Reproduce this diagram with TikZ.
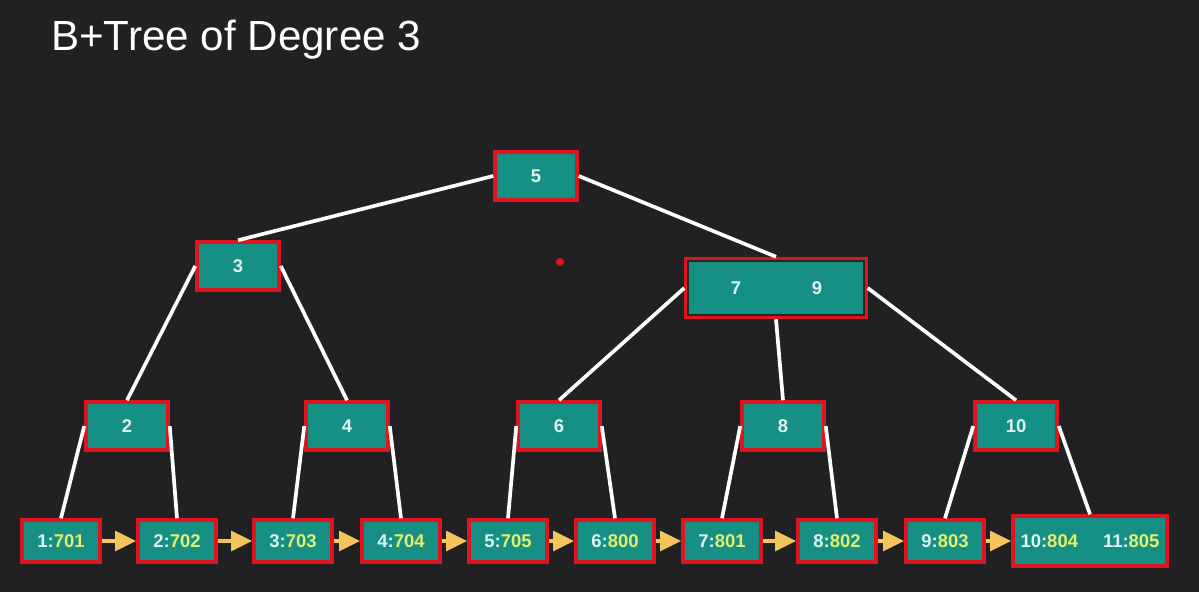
\documentclass[tikz,border=0pt]{standalone}
\usepackage{fontspec}
\setmainfont{Liberation Sans}
\usetikzlibrary{arrows.meta}

\definecolor{bgdark}{HTML}{212123}
\definecolor{nodeteal}{HTML}{168F84}
\definecolor{nodered}{HTML}{E0141E}
\definecolor{keycol}{HTML}{DDF6F0}
\definecolor{valcol}{HTML}{E4F06A}
\definecolor{linkcol}{HTML}{F5C55C}

% key:value of a leaf entry
\newcommand{\kv}[2]{\textcolor{keycol}{#1:}\textcolor{valcol}{#2}}

\begin{document}
\begin{tikzpicture}[x=0.02cm, y=-0.02cm, font=\bfseries\fontsize{10.5}{12}\selectfont,
  keybox/.style={draw=nodered, line width=2pt, fill=nodeteal, text=keycol,
    rectangle, minimum height=0.96cm, minimum width=1.64cm, inner sep=0pt},
  leafbox/.style={draw=nodered, line width=2pt, fill=nodeteal,
    rectangle, minimum height=0.84cm, minimum width=1.56cm, inner sep=0pt},
  edge/.style={draw=white, line width=2.1pt},
  link/.style={draw=linkcol, line width=2.4pt, -{Triangle[length=12pt, width=11pt]}}]

% background and frame
\fill[bgdark] (0,0) rectangle (1199,592);

\node[anchor=base west, text=white, font=\fontsize{24}{28}\selectfont] (title) at (45,50) {B+Tree of Degree 3};

% inner nodes
\node[keybox] (n5) at (536,176) {5};
\node[keybox] (n3) at (238,266) {3};
\node[keybox, minimum width=3.6cm, minimum height=1.18cm] (n79) at (776,288) {};
\draw[black!85, line width=1.2pt] ([shift={(4,4)}] n79.north west) rectangle ([shift={(-4,-4)}] n79.south east);
\node[text=keycol] (k7) at (736,288) {7};
\node[text=keycol] (k9) at (817,288) {9};

\node[keybox] (n2) at (127,426) {2};
\node[keybox] (n4) at (347,426) {4};
\node[keybox] (n6) at (559,426) {6};
\node[keybox] (n8) at (783,426) {8};
\node[keybox] (n10) at (1016,426) {10};

% leaves
\node[leafbox] (l1) at (61,541) {\kv{1}{701}};
\node[leafbox] (l2) at (177,541) {\kv{2}{702}};
\node[leafbox] (l3) at (293,541) {\kv{3}{703}};
\node[leafbox] (l4) at (401,541) {\kv{4}{704}};
\node[leafbox] (l5) at (508,541) {\kv{5}{705}};
\node[leafbox] (l6) at (615,541) {\kv{6}{800}};
\node[leafbox] (l7) at (722,541) {\kv{7}{801}};
\node[leafbox] (l8) at (837,541) {\kv{8}{802}};
\node[leafbox] (l9) at (945,541) {\kv{9}{803}};
\node[leafbox, minimum width=3.08cm, minimum height=1cm] (l10) at (1090,541) {\kv{10}{804}\hspace{5mm}\kv{11}{805}};

% tree edges
\draw[edge] (n5.west) -- (n3.north);
\draw[edge] (n5.east) -- (n79.north);
\draw[edge] (n3.west) -- (n2.north);
\draw[edge] (n3.east) -- (n4.north);
\draw[edge] (n79.west) -- (n6.north);
\draw[edge] (n79.south) -- (n8.north);
\draw[edge] (n79.east) -- (n10.north);

\draw[edge] (n2.west) -- (l1.north);
\draw[edge] (n2.east) -- (l2.north);
\draw[edge] (n4.west) -- (l3.north);
\draw[edge] (n4.east) -- (l4.north);
\draw[edge] (n6.west) -- (l5.north);
\draw[edge] (n6.east) -- (l6.north);
\draw[edge] (n8.west) -- (l7.north);
\draw[edge] (n8.east) -- (l8.north);
\draw[edge] (n10.west) -- (l9.north);
\draw[edge] (n10.east) -- (l10.north);

% leaf links
\foreach \a/\b in {l1/l2, l2/l3, l3/l4, l4/l5, l5/l6, l6/l7, l7/l8, l8/l9, l9/l10}
  \draw[link] (\a.east) -- (\b.west);

% pointer
\fill[nodered] (560,262) circle (4);

\end{tikzpicture}
\end{document}
